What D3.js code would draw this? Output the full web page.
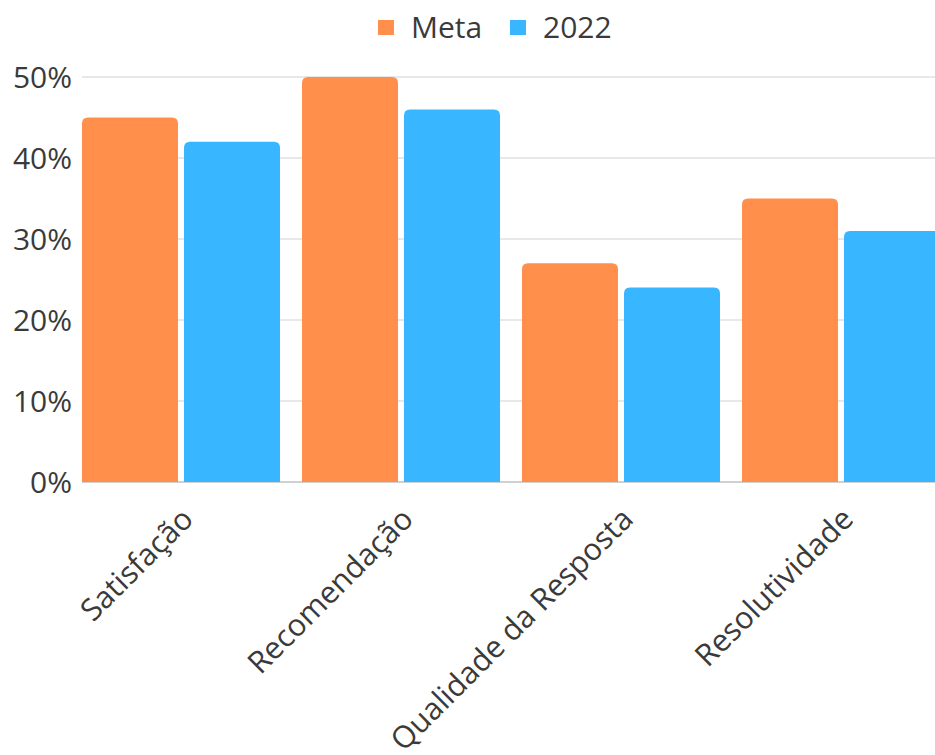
<!DOCTYPE html>
<html>
<head>
<meta charset="utf-8">
<script src="https://cdn.jsdelivr.net/npm/d3@7"></script>
<style>
  body { margin: 0; background: #fff; }
  svg { display: block; font-family: "Open Sans", sans-serif; }
</style>
</head>
<body>
<div id="chart"></div>
<script>
var width = 935,
    height = 755;

var categories = ["Satisfação", "Recomendação", "Qualidade da Resposta", "Resolutividade"];
var series = ["Meta", "2022"];
var meta = [45, 50, 27, 35];
var ano2022 = [42, 46, 24, 31];
var yTicks = [0, 10, 20, 30, 40, 50];
var colors = ["#ff8f4a", "#38b6ff"];

var margin = {top: 77, left: 82, bottom: 273};

var svg = d3.select("#chart")
  .append("svg")
  .attr("width", width)
  .attr("height", height);

var y = d3.scaleLinear()
  .domain([0, 50])
  .range([height - margin.bottom, margin.top]);

var x = d3.scaleBand()
  .domain(categories)
  .range([margin.left, 940])
  .paddingInner(0.1)
  .paddingOuter(0);

var xs = d3.scaleBand()
  .domain(series)
  .range([0, x.bandwidth()])
  .paddingInner(0.059);

// grid
svg.selectAll(".grid")
  .data(yTicks)
  .enter().append("line")
    .attr("x1", margin.left)
    .attr("x2", width)
    .attr("y1", function(d) { return y(d); })
    .attr("y2", function(d) { return y(d); })
    .attr("stroke", function(d) { return d === 0 ? "#d0d0d0" : "#e8e8e8"; })
    .attr("stroke-width", 2);

// y labels
svg.selectAll(".ylab")
  .data(yTicks)
  .enter().append("text")
    .attr("x", 72)
    .attr("y", function(d) { return y(d); })
    .attr("dy", "0.35em")
    .attr("text-anchor", "end")
    .attr("font-size", 30)
    .attr("fill", "#3a3a3a")
    .text(function(d) { return d + "%"; });

// bars with rounded top
function barPath(x0, w, yTop, yBase, r) {
  r = Math.min(r, w / 2, yBase - yTop);
  return "M" + x0 + "," + yBase +
    "V" + (yTop + r) +
    "Q" + x0 + "," + yTop + " " + (x0 + r) + "," + yTop +
    "H" + (x0 + w - r) +
    "Q" + (x0 + w) + "," + yTop + " " + (x0 + w) + "," + (yTop + r) +
    "V" + yBase + "Z";
}

var data = [meta, ano2022];
series.forEach(function(s, si) {
  svg.selectAll(".bar-" + si)
    .data(categories)
    .enter().append("path")
      .attr("fill", colors[si])
      .attr("d", function(c, i) {
        return barPath(x(c) + xs(s), xs.bandwidth(), y(data[si][i]), y(0), 6);
      });
});

// x labels
svg.selectAll(".xlab")
  .data(categories)
  .enter().append("text")
    .attr("text-anchor", "end")
    .attr("font-size", 30.5)
    .attr("fill", "#3a3a3a")
    .attr("transform", function(c) {
      return "translate(" + (x(c) + x.bandwidth() / 2 + 14) + ",521) rotate(-45)";
    })
    .text(function(c) { return c; });

// legend
var legend = svg.append("g").attr("transform", "translate(378,27)");
var lx = [0, 132];
series.forEach(function(s, i) {
  legend.append("rect")
    .attr("x", lx[i])
    .attr("y", -7)
    .attr("width", 16)
    .attr("height", 15)
    .attr("fill", colors[i]);
  legend.append("text")
    .attr("x", lx[i] + 33)
    .attr("y", 0)
    .attr("dy", "0.35em")
    .attr("font-size", 30)
    .attr("fill", "#3a3a3a")
    .text(s);
});
</script>
</body>
</html>
